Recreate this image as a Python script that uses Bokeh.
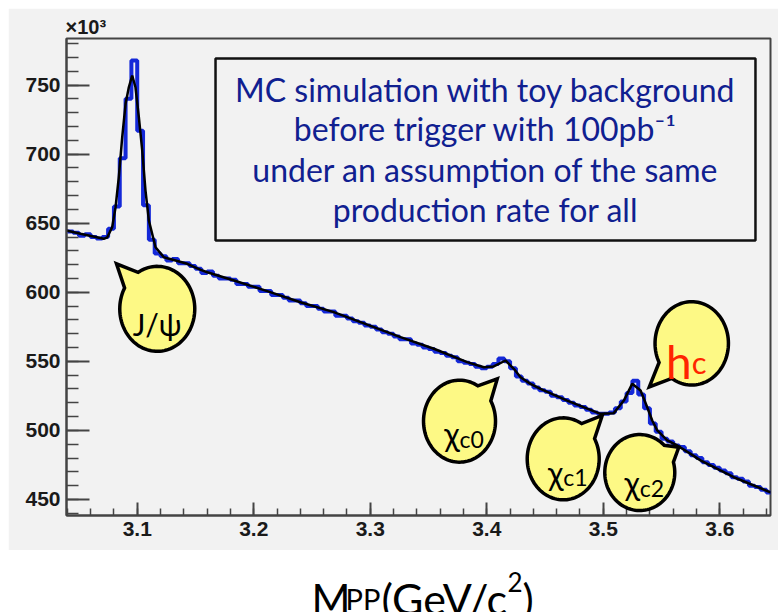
import numpy as np
from bokeh.plotting import figure
from bokeh.models import FixedTicker, Label, PolyAnnotation, BoxAnnotation, Range1d, Title, Spacer
from bokeh.layouts import column, row
from bokeh.embed import file_html
from bokeh.resources import INLINE

# ---------------- data (counts in units of 10^3) ----------------
bin_start = 3.04
bin_width = 0.005
counts = [
    644, 643, 641, 642, 640, 639, 640, 646, 662, 697,
    740, 767.7, 717, 663, 638, 628, 626, 623, 624, 621,
    621, 619, 617, 614, 615, 612, 610, 610, 609, 606,
    606, 604, 604, 601, 601, 598, 598, 596, 594, 594,
    592, 590, 590, 588, 586, 586, 583, 583, 581, 579,
    578, 576, 575, 573, 571, 570, 568, 566, 566, 563,
    562, 560, 559, 557, 556, 554, 553, 550, 549, 548,
    546, 545, 546, 548, 552, 550, 545, 539, 536, 534,
    531, 529, 528, 525, 524, 522, 520, 518, 517, 515,
    513, 512, 512, 513, 516, 521, 527, 536, 526, 516,
    505, 499, 494, 492, 489, 488, 485, 482, 480, 477,
    475, 473, 471, 469, 466, 465, 463, 460, 459, 457,
    455,
]

fit_mass = [3.0393, 3.0513, 3.0713, 3.0743, 3.0785, 3.0814, 3.0842, 3.0871, 3.0900,
            3.0928, 3.0957, 3.0985, 3.1014, 3.1043, 3.1071, 3.1100, 3.1157, 3.1228,
            3.1429, 3.1545, 3.1601, 3.1831, 3.2116, 3.2401, 3.2687, 3.2974, 3.3260,
            3.3546, 3.3832, 3.3975, 3.4060, 3.4161, 3.4232, 3.4290, 3.4375, 3.4461,
            3.4690, 3.4976, 3.5090, 3.5176, 3.5248, 3.5320, 3.5377, 3.5420, 3.5463,
            3.5549, 3.5634, 3.5749, 3.5834, 3.6120, 3.6440]
fit_counts = [644.7, 642.3, 638.7, 639.8, 647.1, 661.6, 683.3, 712.2, 736.4,
              748.4, 756.9, 748.4, 726.7, 702.6, 673.6, 651.9, 632.6, 625.4,
              620.6, 616.2, 614.5, 608.5, 600.8, 592.8, 585.6, 576.6, 567.5,
              559.1, 549.4, 545.7, 546.3, 550.6, 544.6, 538.5, 533.7, 530.1,
              521.6, 512.0, 512.5, 521.6, 533.7, 528.9, 516.8, 507.2, 500.0,
              492.7, 489.1, 483.0, 478.3, 466.1, 455.0]

x_major = [3.1, 3.2, 3.3, 3.4, 3.5, 3.6]
x_minor = [round(3.04 + 0.02 * i, 3) for i in range(31)]
y_major = [450, 500, 550, 600, 650, 700, 750]
y_minor = [440 + 10 * i for i in range(35)]

box_lines = ["MC simulation with toy background",
             "before trigger with 100pb\u207b\u00b9",
             "under an assumption of the same",
             "production rate for all"]

# callouts: main text, subscript, bubble centre, tail tip, radii (px)
call_main = ["J/\u03c8", "\u03c7", "\u03c7", "\u03c7", "h"]
call_sub = ["", "c0", "c1", "c2", "c"]
call_cx = [3.1172, 3.3766, 3.4656, 3.5313, 3.5759]
call_cy = [588.0, 506.7, 479.4, 469.5, 563.0]
call_tx = [3.0822, 3.4090, 3.4991, 3.5648, 3.5395]
call_ty = [620.6, 537.3, 510.8, 487.8, 531.5]
call_rx = [37.5, 36, 36, 35, 36.7]
call_ry = [42.5, 41, 41, 38, 41.7]

# ---------------- main figure ----------------
W, H1 = 770, 542
XR = (3.0393, 3.6435)
YR = (438.4, 783.7)
ML, MR, MT, MB = 58, 8, 30, 35
sx = (W - ML - MR) / (XR[1] - XR[0])
sy = (H1 - MT - MB) / (YR[1] - YR[0])

BG = "#f2f2f2"
p = figure(width=W, height=H1, x_range=Range1d(*XR), y_range=Range1d(*YR),
           output_backend="svg", toolbar_location=None,
           min_border_left=ML, min_border_right=MR, min_border_top=MT, min_border_bottom=MB)
p.background_fill_color = BG
p.border_fill_color = BG
p.grid.visible = False
p.outline_line_color = "#444444"
p.outline_line_width = 2

p.xaxis.ticker = FixedTicker(ticks=x_major, minor_ticks=x_minor)
p.yaxis.ticker = FixedTicker(ticks=y_major, minor_ticks=y_minor)
p.axis.axis_line_width = 2
p.axis.axis_line_color = "#444444"
p.axis.major_tick_out = 0
p.axis.minor_tick_out = 0
p.axis.major_tick_line_color = "#444444"
p.axis.minor_tick_line_color = "#444444"
p.axis.major_tick_line_width = 2
p.axis.minor_tick_line_width = 1.5
p.axis.major_label_text_font = "Arial"
p.axis.major_label_text_font_style = "bold"
p.axis.major_label_text_color = "#1a1a1a"
p.axis.major_label_standoff = 6
p.yaxis.major_label_text_font_size = "21px"
p.xaxis.major_label_text_font_size = "21px"
p.yaxis.major_tick_in = 23
p.yaxis.minor_tick_in = 12
p.xaxis.major_tick_in = 13
p.xaxis.minor_tick_in = 7

# x10^3 multiplier above the frame
p.add_layout(Title(text="\u00d710\u00b3", align="left", offset=-1, standoff=1,
                   text_font="Arial", text_font_style="bold",
                   text_font_size="20px", text_color="#1a1a1a"), "above")

# histogram (blue steps) and fit (black)
edges = bin_start + bin_width * np.arange(len(counts) + 1)
p.step(edges, list(counts) + [counts[-1]], mode="after", line_color="#1428d8", line_width=4)
p.line(fit_mass, fit_counts, line_color="black", line_width=2.5)

# info box
p.add_layout(BoxAnnotation(left=3.1672, right=3.6306, top=769.2, bottom=637.5,
                           fill_alpha=0, line_color="#111111", line_alpha=1, line_width=2.5))
box_y = [744.6, 716.3, 686.7, 657.7]
for txt, yy in zip(box_lines, box_y):
    p.add_layout(Label(x=3.3989, y=yy + 3 / sy, text=txt, text_align="center", text_baseline="middle",
                       text_font="Lato", text_font_size="32px", text_color="#102090"))

# speech bubbles
base_off = [14.7, 17.6, 18.4, 15.0, 18.4]
main_size = ["30px", "32px", "32px", "32px", "46px"]
sub_size = ["", "23px", "23px", "23px", "31px"]
main_lift = [0, 5, 5, 5, 0]
main_col = ["black", "black", "black", "black", "#ff2400"]
for i in range(len(call_main)):
    cx, cy = call_cx[i], call_cy[i]
    rx, ry = call_rx[i], call_ry[i]
    dx = (call_tx[i] - cx) * sx
    dy = (call_ty[i] - cy) * sy
    t0 = np.arctan2(dy / ry, dx / rx)
    d = 0.26
    ts = np.linspace(t0 + d, t0 + 2 * np.pi - d, 100)
    px = list(rx * np.cos(ts)) + [dx]
    py = list(ry * np.sin(ts)) + [dy]
    xs = [cx + v / sx for v in px]
    ys = [cy + v / sy for v in py]
    p.add_layout(PolyAnnotation(xs=xs, ys=ys, fill_color="#fdf985", fill_alpha=1,
                                line_color="black", line_alpha=1, line_width=3.5,
                                line_join="miter"))
    yb = cy - base_off[i] / sy
    if call_sub[i]:
        p.add_layout(Label(x=cx, y=yb + main_lift[i] / sy, text=call_main[i], text_align="right",
                           text_baseline="alphabetic", text_font="Lato",
                           text_font_size=main_size[i], text_color=main_col[i]))
        p.add_layout(Label(x=cx, y=yb, text=call_sub[i], text_align="left",
                           text_baseline="alphabetic", text_font="Lato",
                           text_font_size=sub_size[i], text_color=main_col[i]))
    else:
        p.add_layout(Label(x=cx, y=yb, text=call_main[i], text_align="center",
                           text_baseline="alphabetic", text_font="Lato",
                           text_font_size=main_size[i], text_color=main_col[i]))

# ---------------- x-axis title strip ----------------
W2, H2 = 778, 62
p2 = figure(width=W2, height=H2, x_range=Range1d(0, W2), y_range=Range1d(0, H2),
            output_backend="svg", toolbar_location=None, x_axis_type=None, y_axis_type=None,
            min_border=0)
p2.grid.visible = False
p2.outline_line_color = None
p2.background_fill_color = "white"
p2.border_fill_color = "white"
title_parts = ["M", "PP", "(GeV/c", "2", ")"]
title_x = [311, 345, 381, 507, 522]
title_y = [14, 14, 14, 31, 14]
title_size = ["42px", "29px", "43px", "26px", "42px"]
for t, xx, yy, fs in zip(title_parts, title_x, title_y, title_size):
    p2.add_layout(Label(x=xx, y=yy, text=t, text_font="Lato", text_font_size=fs,
                        text_color="black", text_baseline="alphabetic", text_align="left"))

layout = column(Spacer(width=W2, height=8),
                row(Spacer(width=8, height=H1), p, spacing=0),
                p2, spacing=0)
open("out.html", "w").write(file_html(layout, INLINE))
